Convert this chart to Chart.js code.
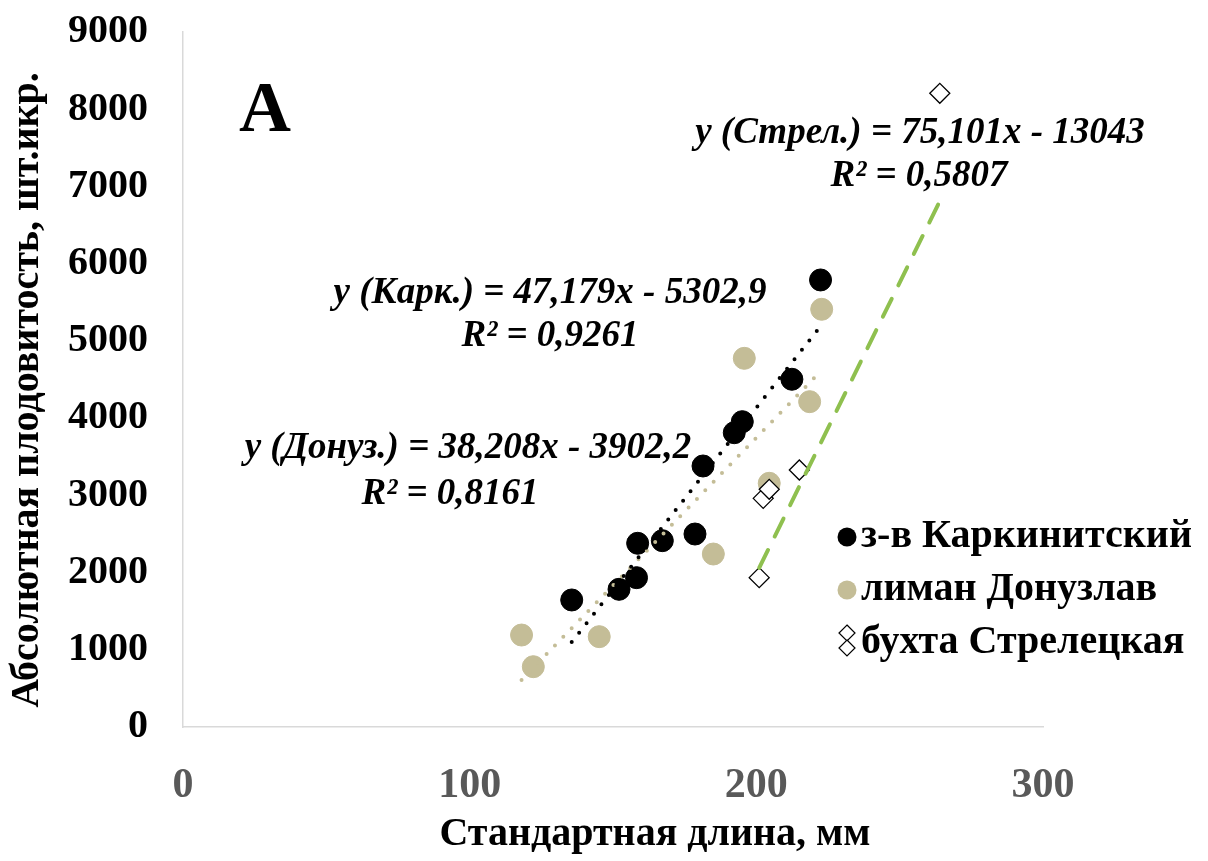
<!DOCTYPE html>
<html>
<head>
<meta charset="utf-8">
<script src="https://cdn.jsdelivr.net/npm/chart.js@4/dist/chart.umd.min.js"></script>
<style>
  body { margin: 0; background: #fff; }
  #wrap { width: 1208px; height: 861px; }
</style>
</head>
<body>
<div id="wrap"><canvas id="chart" width="1208" height="861"></canvas></div>
<script>
// series labels
const seriesNames = ['з-в Каркинитский', 'лиман Донузлав', 'бухта Стрелецкая'];

// standard length (mm) / absolute fecundity
const karkX = [135.6, 152.1, 158.2, 158.6, 167.2, 178.6, 181.4, 192.3, 195.1, 212.4, 222.4];
const karkY = [1645, 1783, 1934, 2379, 2413, 2499, 3380, 3811, 3954, 4503, 5789];

const donuzX = [118.1, 122.2, 145.2, 185.0, 195.8, 204.5, 218.6, 222.8];
const donuzY = [1191, 781, 1170, 2240, 4774, 3156, 4213, 5409];

const strelX = [201.0, 202.4, 204.5, 215.0, 264.0];
const strelY = [1934, 2961, 3078, 3328, 8206];

// trendline end points as seen on the picture
const karkTrendX = [135.6, 222.4];
const karkTrendY = [1100, 5190];
const donuzTrendX = [118.1, 222.8];
const donuzTrendY = [610, 4620];
const strelTrendX = [201.0, 264.0];
const strelTrendY = [2060, 6810];

const equations = [
  ['y (Карк.) = 47,179x - 5302,9', 'R² = 0,9261'],
  ['y (Донуз.) = 38,208x - 3902,2', 'R² = 0,8161'],
  ['y (Стрел.) = 75,101x - 13043', 'R² = 0,5807']
];

const xTicks = [0, 100, 200, 300];
const yTicks = [0, 1000, 2000, 3000, 4000, 5000, 6000, 7000, 8000, 9000];

const tan = '#c4bd97';
const green = '#8fc04f';

function toPoints(xs, ys) {
  return xs.map((x, i) => ({ x: x, y: ys[i] }));
}

const serif = '"Liberation Serif", "Times New Roman", serif';

const overlay = {
  id: 'overlay',
  afterDraw(chart) {
    const ctx = chart.ctx;
    ctx.save();
    ctx.fillStyle = '#000';

    // panel letter
    ctx.font = 'bold 72px ' + serif;
    ctx.textAlign = 'center';
    ctx.textBaseline = 'alphabetic';
    ctx.fillText('A', 265, 131);

    // regression labels
    ctx.font = 'bold italic 37px ' + serif;
    ctx.textBaseline = 'middle';
    ctx.fillText(equations[0][0], 550, 293);
    ctx.fillText(equations[0][1], 550, 336);
    ctx.fillText(equations[1][0], 468, 448);
    ctx.fillText(equations[1][1], 450, 494);
    ctx.fillText(equations[2][0], 920, 133);
    ctx.fillText(equations[2][1], 919, 176);

    // axis titles
    ctx.font = 'bold 40px ' + serif;
    ctx.fillText('Стандартная длина, мм', 655, 835);
    ctx.save();
    ctx.translate(28, 390);
    ctx.rotate(-Math.PI / 2);
    ctx.fillText('Абсолютная плодовитость, шт.икр.', 0, 0);
    ctx.restore();

    // legend
    const rows = [537, 590, 643];
    ctx.textAlign = 'left';
    ctx.font = 'bold 40px ' + serif;
    seriesNames.forEach((name, i) => {
      ctx.fillStyle = '#000';
      ctx.fillText(name, 861, rows[i]);
    });
    ctx.beginPath();
    ctx.arc(847, rows[0], 9.5, 0, Math.PI * 2);
    ctx.fillStyle = '#000';
    ctx.fill();
    ctx.beginPath();
    ctx.arc(847, rows[1], 9.5, 0, Math.PI * 2);
    ctx.fillStyle = tan;
    ctx.fill();
    [rows[2] - 10, rows[2] + 5].forEach(cy => {
      ctx.beginPath();
      ctx.moveTo(847, cy - 8);
      ctx.lineTo(855, cy);
      ctx.lineTo(847, cy + 8);
      ctx.lineTo(839, cy);
      ctx.closePath();
      ctx.fillStyle = '#fff';
      ctx.fill();
      ctx.strokeStyle = '#000';
      ctx.lineWidth = 1.2;
      ctx.stroke();
    });
    ctx.restore();
  }
};

const ctx = document.getElementById('chart').getContext('2d');
new Chart(ctx, {
  type: 'scatter',
  data: {
    datasets: [
      {
        label: seriesNames[0],
        data: toPoints(karkX, karkY),
        backgroundColor: '#000',
        borderColor: '#000',
        pointRadius: 11,
        order: 4
      },
      {
        label: seriesNames[1],
        data: toPoints(donuzX, donuzY),
        backgroundColor: tan,
        borderColor: tan,
        pointRadius: 11,
        order: 3
      },
      {
        label: seriesNames[2],
        data: toPoints(strelX, strelY),
        pointStyle: 'rectRot',
        backgroundColor: '#fff',
        borderColor: '#000',
        borderWidth: 1.3,
        pointRadius: 10,
        order: 2
      },
      {
        type: 'line',
        data: toPoints(karkTrendX, karkTrendY),
        borderColor: '#000',
        borderWidth: 4,
        borderDash: [0, 12],
        borderCapStyle: 'round',
        pointRadius: 0,
        fill: false,
        order: 1
      },
      {
        type: 'line',
        data: toPoints(donuzTrendX, donuzTrendY),
        borderColor: tan,
        borderWidth: 4,
        borderDash: [0, 12],
        borderCapStyle: 'round',
        pointRadius: 0,
        fill: false,
        order: 1
      },
      {
        type: 'line',
        data: toPoints(strelTrendX, strelTrendY),
        borderColor: green,
        borderWidth: 4,
        borderDash: [20, 15],
        borderCapStyle: 'round',
        pointRadius: 0,
        fill: false,
        order: 1
      }
    ]
  },
  options: {
    responsive: false,
    animation: false,
    layout: { padding: { top: 32, right: 165, left: 0, bottom: 0 } },
    plugins: {
      legend: { display: false },
      tooltip: { enabled: false }
    },
    scales: {
      x: {
        type: 'linear',
        min: 0,
        max: 300,
        afterBuildTicks: scale => { scale.ticks = xTicks.map(v => ({ value: v })); },
        afterFit: scale => {
          scale.height = 134;
          scale.paddingLeft = 0;
          scale.paddingRight = 0;
        },
        grid: { display: false, drawTicks: false },
        border: { display: true, color: '#d9d9d9', width: 1.5 },
        ticks: {
          padding: 34,
          color: '#595959',
          callback: v => String(v),
          font: { family: serif, size: 42, weight: 'bold' }
        }
      },
      y: {
        type: 'linear',
        min: 0,
        max: 9000,
        afterBuildTicks: scale => { scale.ticks = yTicks.map(v => ({ value: v })); },
        afterFit: scale => {
          scale.width = 183;
          scale.paddingTop = 0;
          scale.paddingBottom = 0;
        },
        grid: { display: false, drawTicks: false },
        border: { display: true, color: '#d9d9d9', width: 1.5 },
        ticks: {
          padding: 35,
          color: '#000',
          callback: v => String(v),
          font: { family: serif, size: 40, weight: 'bold' }
        }
      }
    }
  },
  plugins: [overlay]
});
</script>
</body>
</html>
